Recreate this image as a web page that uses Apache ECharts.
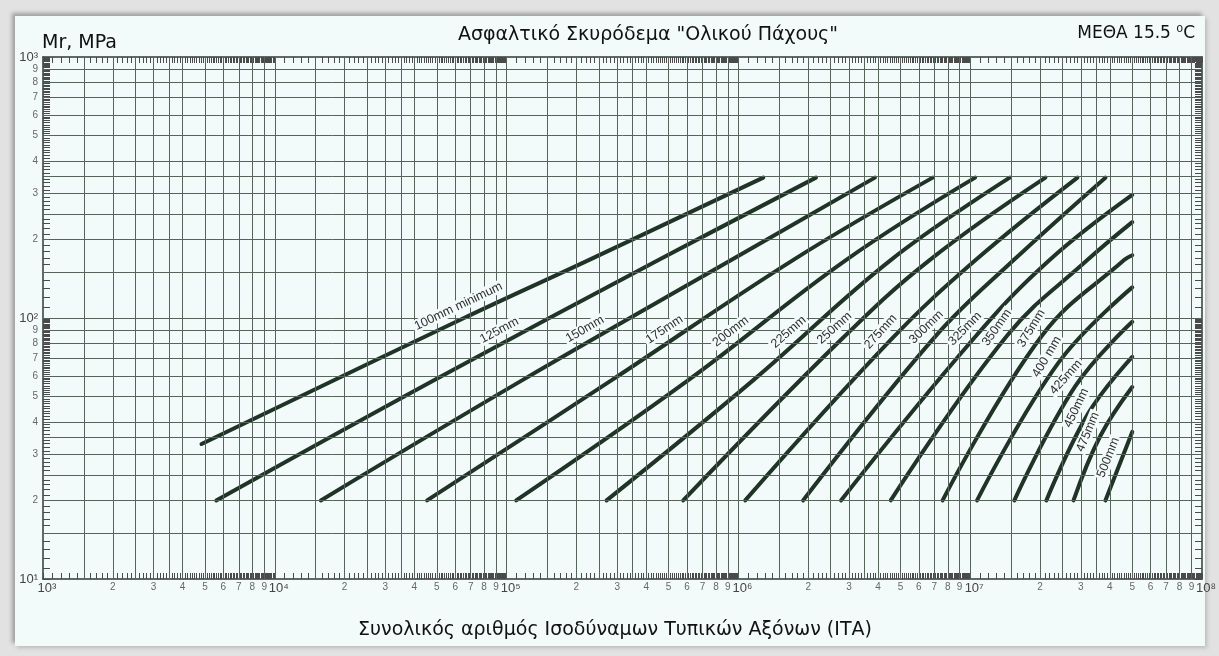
<!DOCTYPE html>
<html>
<head>
<meta charset="utf-8">
<script src="https://cdn.jsdelivr.net/npm/echarts@6/dist/echarts.min.js"></script>
<style>
  html, body { margin: 0; padding: 0; width: 1219px; height: 656px; overflow: hidden; background: #e2e2e2; }
  #frame { position: absolute; left: 15px; top: 16px; width: 1190px; height: 630px; background: #f3fafa;
           box-shadow: -3px -3px 4px #a0a0a0, 2px 2px 4px #bdbdbd; }
  #chart { position: absolute; left: 0; top: 0; width: 1219px; height: 656px; }
</style>
</head>
<body>
<div id="frame"></div>
<div id="chart"></div>
<script>
// Design chart: resilient modulus (MPa) vs. number of equivalent standard axles,
// one curve per full-depth asphalt thickness.
const thicknessNames = ['100mm minimum', '125mm', '150mm', '175mm', '200mm', '225mm', '250mm', '275mm',
  '300mm', '325mm', '350mm', '375mm', '400 mm', '425mm', '450mm', '475mm', '500mm'];

// [ESAL, Mr MPa] points along each thickness curve
const t100 = [[4.83e3, 32.9], [6.55e4, 100], [2.26e5, 166.7], [1.28e6, 345]];
const t125 = [[5.59e3, 20], [4.86e4, 57.8], [4.52e5, 166.7], [2.16e6, 345]];
const t150 = [[1.58e4, 20], [1.17e5, 57.8], [9.31e5, 166.7], [3.88e6, 345]];
const t175 = [[4.54e4, 20], [2.84e5, 57.8], [1.72e6, 166.7], [6.89e6, 345]];
const t200 = [[1.10e5, 20], [6.08e5, 57.8], [2.91e6, 166.7], [1.05e7, 345]];
const t225 = [[2.70e5, 20], [1.16e6, 57.8], [4.54e6, 166.7], [1.48e7, 345]];
const t250 = [[5.78e5, 20], [2.82e6, 83.8], [6.68e6, 166.7], [2.11e7, 345]];
const t275 = [[1.07e6, 20], [4.54e6, 82.4], [1.055e7, 166.7], [2.90e7, 345]];
const t300 = [[1.90e6, 20], [7.03e6, 84.5], [1.54e7, 166.7], [3.83e7, 345]];
const t325 = [[2.77e6, 20], [1.04e7, 83.8], [2.20e7, 166.7], [5.0e7, 296]];
const t350 = [[4.54e6, 20], [1.45e7, 86.1], [3.20e7, 166.7], [5.0e7, 233]];
const t375 = [[7.60e6, 20], [2.05e7, 86.1], [4.61e7, 166.7], [5.0e7, 174]];
const t400 = [[1.07e7, 20], [2.40e7, 67.3], [5.0e7, 131]];
const t425 = [[1.55e7, 20], [2.84e7, 54.8], [5.0e7, 96.7]];
const t450 = [[2.13e7, 20], [3.24e7, 43.3], [5.0e7, 71]];
const t475 = [[2.79e7, 20], [3.64e7, 35.3], [5.0e7, 54.4]];
const t500 = [[3.83e7, 20], [5.0e7, 36.6]];
const curves = [t100, t125, t150, t175, t200, t225, t250, t275, t300, t325, t350, t375, t400, t425, t450, t475, t500];

// Mr value (MPa) on each curve where its name is written
const labelAt = [100, 81, 82, 82, 81, 81, 84, 82, 85, 84, 86, 86, 67, 55, 43, 35, 28];

// Axis ranges, grid and tick labels
const xDecades = [1e3, 1e4, 1e5, 1e6, 1e7];
const yDecades = [1e1, 1e2];
const gridMantissas = [1, 1.5, 2, 2.5, 3, 3.5, 4, 5, 6, 7, 8, 9];
const labelMantissas = [1, 2, 3, 4, 5, 6, 7, 8, 9];

const INK = '#1f3327';
const GRID = '#56635b';
const SUP = { 1: '\u00b9', 2: '\u00b2', 3: '\u00b3', 4: '\u2074', 5: '\u2075', 6: '\u2076', 7: '\u2077', 8: '\u2078' };

function spread(decades, mantissas, last) {
  const out = [];
  decades.forEach(d => mantissas.forEach(m => out.push(Math.round(m * 10) / 10 * d)));
  out.push(last);
  return out;
}
function fineTicks(decades, last) {
  const out = [];
  decades.forEach(d => { for (let k = 10; k < 100; k++) out.push(k / 10 * d); });
  out.push(last);
  return out;
}
function makeFmt(style) {
  return function (v) {
    const e = Math.round(Math.log10(v));
    const m = v / Math.pow(10, e);
    if (Math.abs(m - 1) < 1e-6) return '{' + style + '|10' + SUP[e] + '}';
    return '{m|' + Math.round(v / Math.pow(10, Math.floor(Math.log10(v) + 1e-9))) + '}';
  };
}

const xGrid = spread(xDecades, gridMantissas, 1e8);
const yGrid = spread(yDecades, gridMantissas, 1e3);
const xLabels = spread(xDecades, labelMantissas, 1e8);
const yLabels = spread(yDecades, labelMantissas, 1e3);
const xFine = fineTicks(xDecades, 1e8);
const yFine = fineTicks(yDecades, 1e3);

const edge = { show: true, lineStyle: { color: '#2f3a34', width: 1.5 } };
const rich = {
  p: { fontFamily: 'Liberation Sans', fontSize: 13, color: '#444', padding: [0, 0, 0, 8] },
  q: { fontFamily: 'Liberation Sans', fontSize: 13, color: '#444' },
  m: { fontFamily: 'Liberation Sans', fontSize: 10, color: '#666' }
};

const chart = echarts.init(document.getElementById('chart'), null, { renderer: 'canvas' });

const series = [{
  type: 'line', data: [[1e3, 10]], symbol: 'none', lineStyle: { opacity: 0 }, silent: true, z: 1,
  markLine: {
    silent: true, symbol: 'none', animation: false,
    label: { show: false },
    lineStyle: { color: GRID, width: 1, type: 'solid' },
    emphasis: { disabled: true },
    data: xGrid.slice(1, -1).map(v => ({ xAxis: v })).concat(yGrid.slice(1, -1).map(v => ({ yAxis: v })))
  }
}];
curves.forEach((c, i) => series.push({
  type: 'line', name: thicknessNames[i], data: c, smooth: 0.4, symbol: 'none', z: 3,
  lineStyle: { color: INK, width: 4, cap: 'round' }, silent: true
}));

chart.setOption({
  animation: false,
  grid: { left: 43, right: 16, top: 57, bottom: 77, containLabel: false },
  xAxis: [{
    type: 'log', logBase: 10, min: 1e3, max: 1e8, position: 'bottom',
    axisLine: edge,
    axisTick: { show: true, inside: true, length: 6, customValues: xFine, lineStyle: { color: '#4a4a4a', width: 1 } },
    axisLabel: { customValues: xLabels, formatter: makeFmt('p'), rich: rich, margin: 3,
                 showMinLabel: true, showMaxLabel: true, hideOverlap: false },
    splitLine: { show: false }
  }, {
    type: 'log', logBase: 10, min: 1e3, max: 1e8, position: 'top',
    axisLine: edge,
    axisTick: { show: true, inside: true, length: 6, customValues: xFine, lineStyle: { color: '#4a4a4a', width: 1 } },
    axisLabel: { show: false }, splitLine: { show: false }
  }],
  yAxis: [{
    type: 'log', logBase: 10, min: 10, max: 1000, position: 'left',
    axisLine: edge,
    axisTick: { show: true, inside: true, length: 7, customValues: yFine, lineStyle: { color: '#4a4a4a', width: 1 } },
    axisLabel: { customValues: yLabels, formatter: makeFmt('q'), rich: rich, margin: 5, align: 'right',
                 showMinLabel: true, showMaxLabel: true },
    splitLine: { show: false }
  }, {
    type: 'log', logBase: 10, min: 10, max: 1000, position: 'right',
    axisLine: edge,
    axisTick: { show: true, inside: true, length: 7, customValues: yFine, lineStyle: { color: '#4a4a4a', width: 1 } },
    axisLabel: { show: false }, splitLine: { show: false }
  }],
  series: series
});

// Curve names written along each curve, just above it
function pointOnCurve(c, yVal) {
  const pts = c.map(p => chart.convertToPixel({ gridIndex: 0 }, p));
  const ly = Math.log10(yVal);
  for (let i = 0; i < c.length - 1; i++) {
    const a = Math.log10(c[i][1]), b = Math.log10(c[i + 1][1]);
    if ((ly - a) * (ly - b) <= 0) {
      const t = (ly - a) / (b - a);
      const x = pts[i][0] + t * (pts[i + 1][0] - pts[i][0]);
      const y = pts[i][1] + t * (pts[i + 1][1] - pts[i][1]);
      const ang = Math.atan2(-(pts[i + 1][1] - pts[i][1]), pts[i + 1][0] - pts[i][0]);
      return [x, y, ang];
    }
  }
  return null;
}
const texts = [];
curves.forEach((c, i) => {
  const r = pointOnCurve(c, labelAt[i]);
  if (!r) return;
  const d = 13;
  texts.push({
    type: 'text', x: r[0] - d * Math.sin(r[2]), y: r[1] - d * Math.cos(r[2]), rotation: r[2], z: 10,
    style: { text: thicknessNames[i], fontFamily: 'Liberation Sans', fontSize: 12.5, fill: '#2e2e2e',
             align: 'center', verticalAlign: 'middle', backgroundColor: '#f3fafa', padding: [0, 2] }
  });
});
const hand = 'DejaVu Sans';
texts.push(
  { type: 'text', x: 42, y: 43, style: { text: 'Mr, MPa', fontFamily: hand, fontSize: 19, fill: '#111', verticalAlign: 'middle' } },
  { type: 'text', x: 648, y: 35, style: { text: 'Ασφαλτικό Σκυρόδεμα "Ολικού Πάχους"', fontFamily: hand, fontSize: 19, fill: '#111', align: 'center', verticalAlign: 'middle' } },
  { type: 'text', x: 1195, y: 34, style: { text: 'ΜΕΘΑ 15.5 \u2070C', fontFamily: hand, fontSize: 17, fill: '#111', align: 'right', verticalAlign: 'middle' } },
  { type: 'text', x: 615, y: 630, style: { text: 'Συνολικός αριθμός Ισοδύναμων Τυπικών Αξόνων (ΙΤΑ)', fontFamily: hand, fontSize: 19, fill: '#111', align: 'center', verticalAlign: 'middle' } }
);
chart.setOption({ graphic: texts });
</script>
</body>
</html>
